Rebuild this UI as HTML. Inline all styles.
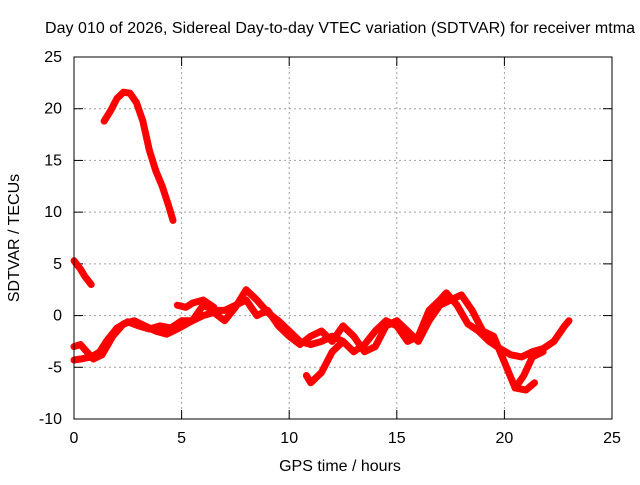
<!DOCTYPE html>
<html><head><meta charset="utf-8"><style>
body{margin:0;background:#fff;width:640px;height:480px;overflow:hidden;font-family:"Liberation Sans",sans-serif}
text{font-family:"Liberation Sans",sans-serif;font-size:16px;fill:#000}
</style></head><body>
<svg id="chart" width="640" height="480" xmlns="http://www.w3.org/2000/svg">
<text x="340" y="33" text-anchor="middle" textLength="590">Day 010 of 2026, Sidereal Day-to-day VTEC variation (SDTVAR) for receiver mtma</text>
<text x="340" y="471" text-anchor="middle">GPS time / hours</text>
<text transform="translate(19,238) rotate(-90)" text-anchor="middle">SDTVAR / TECUs</text>
<g id="grid"></g><g id="ticks"></g><g id="series"></g>
<rect x="74" y="57" width="538" height="362" fill="none" stroke="#000" stroke-width="1"/>
</svg>
<script>
const xTicks=[0,5,10,15,20,25];
const yTicks=[-10,-5,0,5,10,15,20,25];
const seriesPeak=[[1.4,18.8],[1.7,19.8],[2.0,21.0],[2.3,21.6],[2.6,21.5],[2.9,20.6],[3.2,18.8],[3.5,16.0],[3.8,14.0],[4.1,12.5],[4.4,10.6],[4.6,9.2]];
const seriesStart=[[0,5.3],[0.3,4.5],[0.5,3.8],[0.8,3.0]];
const seriesDayA=[[0,-4.3],[0.3,-4.2],[0.8,-4],[1.2,-3.5],[1.5,-2.5],[2,-1.2],[2.5,-0.6],[3,-1],[3.5,-1.3],[4,-1.0],[4.5,-1.2],[5,-0.5],[5.5,-0.5],[6,0],[6.5,0.3],[7,-0.5],[7.5,0.8],[8,2.5],[8.5,1.5],[9,0.3],[9.5,-0.5],[10,-1.5],[10.5,-2.5],[11,-2.8],[11.5,-2.5],[12,-2.0],[12.5,-2.5],[13,-3.5],[13.5,-2.8],[14,-1.5],[14.5,-0.5],[15,-1.0],[15.5,-2.5],[16,-2.0],[16.5,0.5],[17,1.5],[17.3,2.2],[17.8,1],[18.3,-0.8],[18.8,-1.5],[19.3,-2.5],[19.8,-3.2],[20.3,-3.8],[20.8,-4.0],[21.3,-3.5],[21.8,-3.2],[22.3,-2.5],[22.8,-1.0],[23,-0.5]];
const seriesDayB=[[0,-3],[0.3,-2.8],[0.6,-3.5],[0.9,-4.2],[1.3,-3.8],[1.8,-2],[2.3,-0.8],[2.8,-0.5],[3.3,-1.0],[3.8,-1.5],[4.3,-1.8],[4.8,-1.3],[5.5,-0.5],[6,1],[6.5,0.5],[7,0.5],[7.5,1.0],[8,1.5],[8.5,0],[9,0.5],[9.5,-1.0],[10,-2],[10.5,-2.8],[11,-2.0],[11.5,-1.5],[12,-2.5],[12.5,-1.0],[13,-2.0],[13.5,-3.5],[14,-3.0],[14.5,-1.0],[15,-0.5],[15.5,-1.5],[16,-2.5],[16.5,-0.5],[17,1],[17.5,1.5],[18,2],[18.5,0.5],[19,-1.5],[19.5,-2.0],[19.8,-3.5],[20.2,-5.5],[20.5,-7.0],[21,-7.2],[21.4,-6.5]];
const seriesDip=[[10.8,-5.8],[11,-6.5],[11.5,-5.5],[12,-3.5],[12.5,-2.5]];
const seriesDipB=[[20.5,-7.0],[20.9,-5.8],[21.3,-4.0],[21.8,-3.5]];
const seriesMid=[[4.8,1.0],[5.2,0.8],[5.5,1.2],[6,1.5],[6.5,0.8]];
const allSeries=[seriesPeak,seriesStart,seriesDayA,seriesDayB,seriesDip,seriesDipB,seriesMid];
const X=h=>74+h*(538/25), Y=v=>57+(25-v)*(362/35);
const NS="http://www.w3.org/2000/svg";
const grid=document.getElementById('grid'),ticks=document.getElementById('ticks'),ser=document.getElementById('series');
function mk(t,a){const e=document.createElementNS(NS,t);for(const k in a)e.setAttribute(k,a[k]);return e;}
xTicks.forEach(t=>{
 if(t>0&&t<25){const g=mk('line',{x1:X(t),x2:X(t),y1:57,y2:419,stroke:'#a0a0a0','stroke-dasharray':'2,3'});
 
 grid.appendChild(g);}
 ticks.appendChild(mk('line',{x1:X(t),x2:X(t),y1:419,y2:410,stroke:'#000'}));
 ticks.appendChild(mk('line',{x1:X(t),x2:X(t),y1:57,y2:66,stroke:'#000'}));
 const tx=mk('text',{x:X(t),y:443,'text-anchor':'middle'});tx.textContent=t;
 
 ticks.appendChild(tx);
});
yTicks.forEach(t=>{
 if(t>-10&&t<25){const g=mk('line',{x1:74,x2:612,y1:Y(t),y2:Y(t),stroke:'#a0a0a0','stroke-dasharray':'2,3'});
 
 grid.appendChild(g);}
 ticks.appendChild(mk('line',{x1:74,x2:83,y1:Y(t),y2:Y(t),stroke:'#000'}));
 ticks.appendChild(mk('line',{x1:612,x2:603,y1:Y(t),y2:Y(t),stroke:'#000'}));
 const tx=mk('text',{x:62,y:Y(t)+5,'text-anchor':'end'});tx.textContent=t;
 
 ticks.appendChild(tx);
});
allSeries.forEach(s=>{
 const p=mk('polyline',{points:s.map(d=>X(d[0])+','+Y(d[1])).join(' '),fill:'none',stroke:'#ff0000','stroke-width':7,'stroke-linejoin':'round','stroke-linecap':'round'});
 
 
 ser.appendChild(p);
});
</script>
</body></html>
